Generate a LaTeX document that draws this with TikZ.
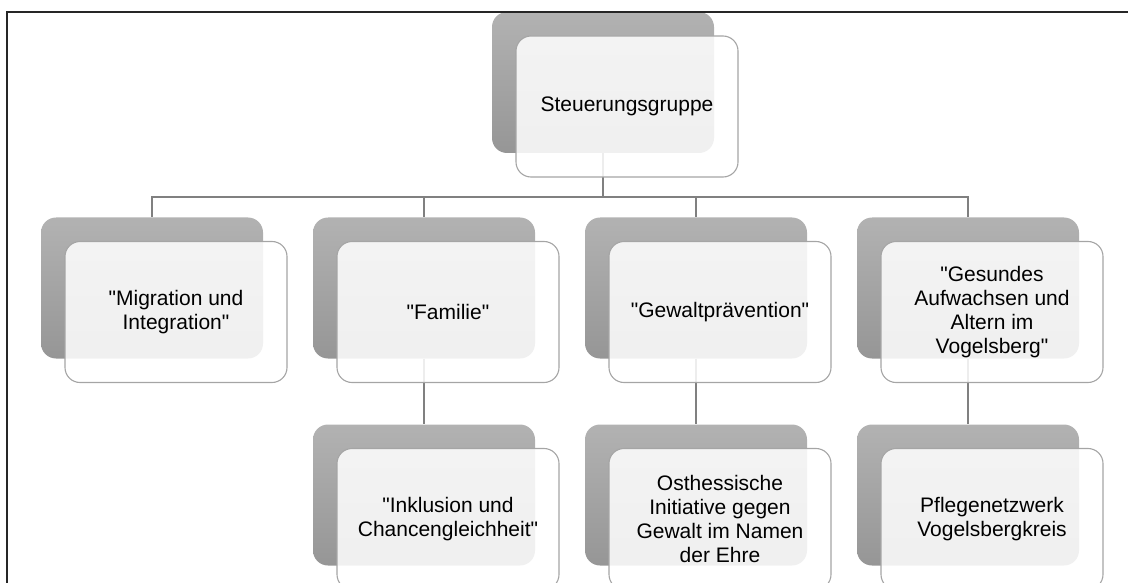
\documentclass[tikz,border=0pt]{standalone}
\usepackage{fontspec}
\setmainfont{Liberation Sans}[Ligatures=TeXOff]
\usepackage{xcolor}
\usetikzlibrary{positioning}
\definecolor{shadetop}{RGB}{178,178,178}
\definecolor{shadebot}{RGB}{150,150,150}
\definecolor{rimgray}{RGB}{165,165,165}
\definecolor{linkgray}{RGB}{128,128,128}
\definecolor{framedark}{RGB}{38,38,38}
\tikzset{
  backbox/.style={rectangle,rounded corners=15pt,minimum width=222pt,minimum height=141pt,
    inner sep=0pt,top color=shadetop,bottom color=shadebot},
  frontbox/.style={rectangle,rounded corners=15pt,minimum width=222pt,minimum height=141pt,
    inner sep=4pt,draw=rimgray,line width=1.1pt,fill=white,fill opacity=0.86,text opacity=1,
    align=center,font=\fontsize{21}{23.8}\selectfont},
  link/.style={draw=linkgray,line width=1.6pt},
}

\begin{document}
\begin{tikzpicture}[x=1pt,y=-1pt]
\clip (0,0) rectangle (1128,583);
% back boxes
\node[backbox] (steer) at (603,82.5) {};
\node[backbox] (mig) at (152,288) {};
\node[backbox] (fam) at (424,288) {};
\node[backbox] (gew) at (696,288) {};
\node[backbox] (ges) at (968,288) {};
\node[backbox] (inkl) at (424,495) {};
\node[backbox] (osth) at (696,495) {};
\node[backbox] (pfl) at (968,495) {};
% connectors
\coordinate (bus) at (603,197);
\draw[link] (steer.south) -- (bus);
\foreach \n in {mig,fam,gew,ges}
  \draw[link] (bus) -| (\n.north);
\draw[link] (fam.south) -- (inkl.north);
\draw[link] (gew.south) -- (osth.north);
\draw[link] (ges.south) -- (pfl.north);
% front boxes
\node[frontbox] (steerT) at ([shift={(24,24)}]steer) {Steuerungsgruppe};
\node[frontbox] (migT) at ([shift={(24,24)}]mig) {"Migration und\\Integration"};
\node[frontbox] (famT) at ([shift={(24,24)}]fam) {"Familie"};
\node[frontbox] (gewT) at ([shift={(24,24)}]gew) {"Gewaltprävention"};
\node[frontbox] (gesT) at ([shift={(24,24)}]ges) {"Gesundes\\Aufwachsen und\\Altern im\\Vogelsberg"};
\node[frontbox] (inklT) at ([shift={(24,24)}]inkl) {"Inklusion und\\Chancengleichheit"};
\node[frontbox] (osthT) at ([shift={(24,24)}]osth) {Osthessische\\Initiative gegen\\Gewalt im Namen\\der Ehre};
\node[frontbox] (pflT) at ([shift={(24,24)}]pfl) {Pflegenetzwerk\\Vogelsbergkreis};
% frame
\draw[framedark,line width=2pt] (7,583) -- (7,12) -- (1128,12);
\end{tikzpicture}
\end{document}
